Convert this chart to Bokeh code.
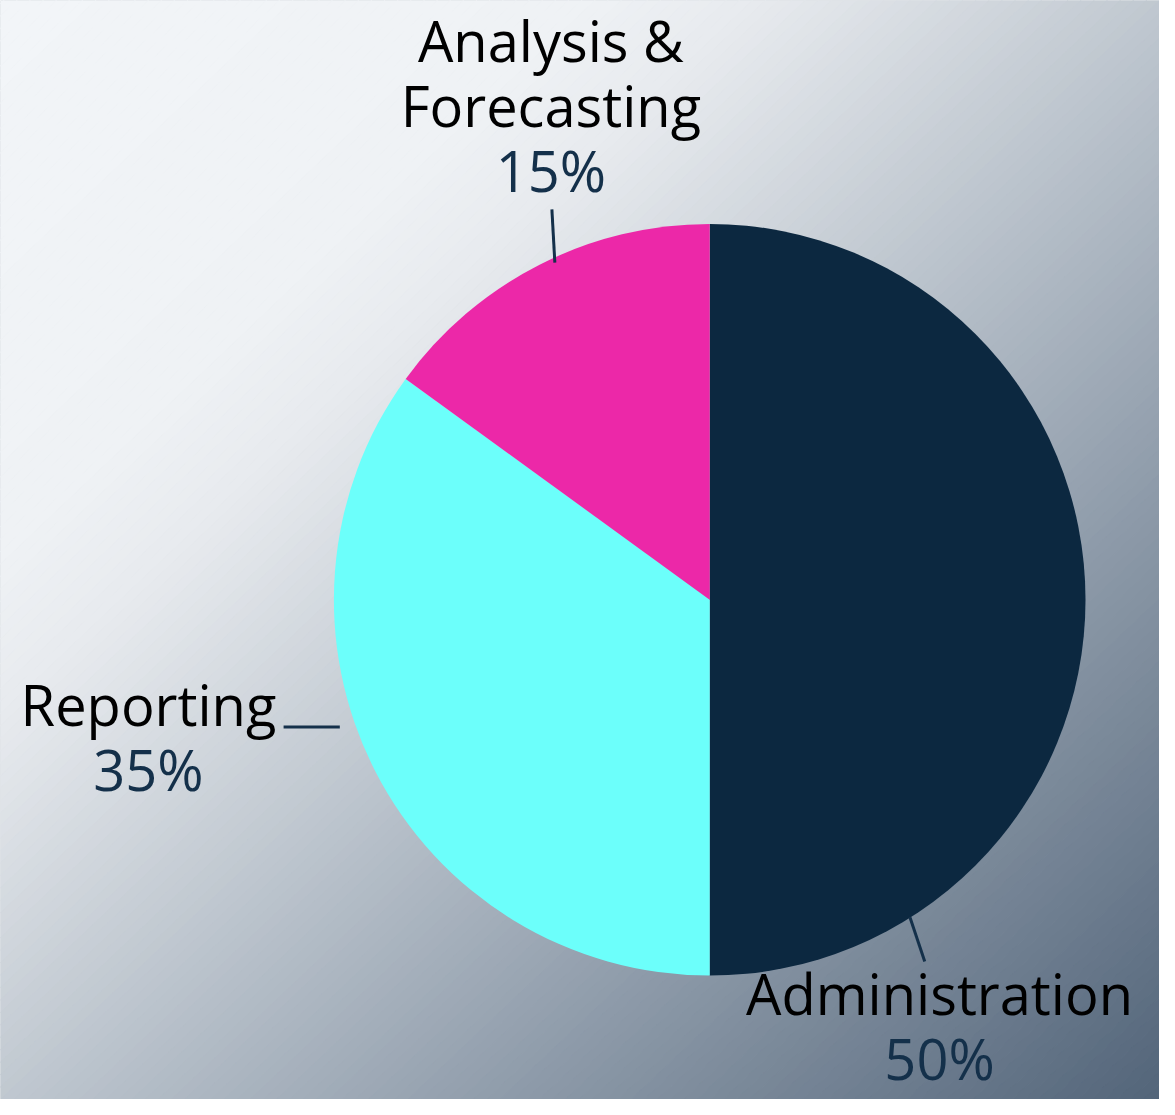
import numpy as np
from bokeh.plotting import figure
from bokeh.models import Range1d, ColumnDataSource
from bokeh.core.properties import value
from bokeh.embed import file_html
from bokeh.resources import INLINE

# ---------------- data ----------------
categories = ["Administration", "Reporting", "Analysis &\nForecasting"]
shares = [50, 35, 15]
pct_labels = ["50%", "35%", "15%"]

# ---------------- style / layout ----------------
slice_colors = ["#0c2840", "#6cfffb", "#ec28a8"]
name_color = "#000000"
pct_color = "#14304a"
leader_color = "#14304a"
FONT = "Open Sans"
FONT_SIZE = "56px"
LINE_GAP = 66
BASELINE_FIX = 24          # svg text baseline correction (screen px)

W, H = 1159, 1099          # figure size (page has 8px margin)
REF_W, REF_H = 1175, 1115  # reference layout size
SX, SY = W / REF_W, H / REF_H


def dx(rx):
    return rx * SX


def dy(ry):
    return H - ry * SY


# pie geometry (reference pixels)
CX, CY, R = 719, 608, 381

# label anchors (reference pixels): centre x, baseline of first name line
label_anchor = {
    "Administration": (952, 1031),
    "Reporting": (150, 738),
    "Analysis &\nForecasting": (558, 64),
}
# leader lines (reference pixels)
leader = {
    "Administration": ((922, 930), (937, 975)),
    "Reporting": ((344, 737), (287, 737)),
    "Analysis &\nForecasting": ((562, 266), (559, 212)),
}

# background gradient stops along the top-left -> bottom-right diagonal
grad_stops = [(0.0, "#f2f5f8"), (0.25, "#eff2f5"), (0.33, "#e7eaee"),
              (0.5, "#c0c8d0"), (0.72, "#8e9baa"), (1.0, "#536579")]


def hex2rgb(h):
    h = h.lstrip("#")
    return np.array([int(h[i:i + 2], 16) for i in (0, 2, 4)], dtype=float)


def grad_color(t):
    ts = [s[0] for s in grad_stops]
    cs = [hex2rgb(s[1]) for s in grad_stops]
    t = min(max(t, 0.0), 1.0)
    for i in range(len(ts) - 1):
        if ts[i] <= t <= ts[i + 1]:
            f = (t - ts[i]) / (ts[i + 1] - ts[i])
            c = cs[i] * (1 - f) + cs[i + 1] * f
            return "#%02x%02x%02x" % tuple(int(round(v)) for v in c)
    return grad_stops[-1][1]


p = figure(width=W, height=H, x_range=Range1d(0, W), y_range=Range1d(0, H),
           output_backend="svg", toolbar_location=None, min_border=0)
p.axis.visible = False
p.grid.visible = False
p.outline_line_color = None
p.background_fill_color = "#c0c8d0"
p.border_fill_color = "#ffffff"

# gradient strips
N = 180
xs_g, ys_g, cols_g = [], [], []
for i in range(N):
    t0 = -0.01 + 1.02 * i / N
    t1 = -0.01 + 1.02 * (i + 1) / N
    pts = [(2 * t0 + 1.5, -1.5), (-1.5, 2 * t0 + 1.5), (-1.5, 2 * t1 + 1.5), (2 * t1 + 1.5, -1.5)]
    xs_g.append([dx(u * REF_W) for u, v in pts])
    ys_g.append([dy(v * REF_H) for u, v in pts])
    cols_g.append(grad_color((t0 + t1) / 2))
p.patches(xs=xs_g, ys=ys_g, fill_color=cols_g, line_color=cols_g, line_width=1)

# pie wedges (clockwise from 12 o'clock)
total = float(sum(shares))
cum = np.concatenate([[0], np.cumsum(shares)]) / total
start = np.pi / 2 - 2 * np.pi * cum[:-1]
end = np.pi / 2 - 2 * np.pi * cum[1:]
src = ColumnDataSource(dict(start=start, end=end, color=slice_colors, name=categories))
p.wedge(x=dx(CX), y=dy(CY), radius=R * SX, start_angle="start", end_angle="end",
        direction="clock", fill_color="color", line_color=None, source=src)

# leader lines
p.multi_line(xs=[[dx(leader[c][0][0]), dx(leader[c][1][0])] for c in categories],
             ys=[[dy(leader[c][0][1]), dy(leader[c][1][1])] for c in categories],
             line_color=leader_color, line_width=3)

# labels
tx, ty, tt, tc = [], [], [], []
for cat, pct in zip(categories, pct_labels):
    ax, ay = label_anchor[cat]
    lines = cat.split("\n")
    for k, ln in enumerate(lines):
        tx.append(dx(ax)); ty.append(dy(ay + k * LINE_GAP) + BASELINE_FIX)
        tt.append(ln); tc.append(name_color)
    tx.append(dx(ax)); ty.append(dy(ay + len(lines) * LINE_GAP) + BASELINE_FIX)
    tt.append(pct); tc.append(pct_color)
p.text(x=tx, y=ty, text=tt, text_color=tc, text_font=value(FONT), text_font_size=FONT_SIZE,
       text_align="center", text_baseline="alphabetic")

open("out.html", "w").write(file_html(p, INLINE))
